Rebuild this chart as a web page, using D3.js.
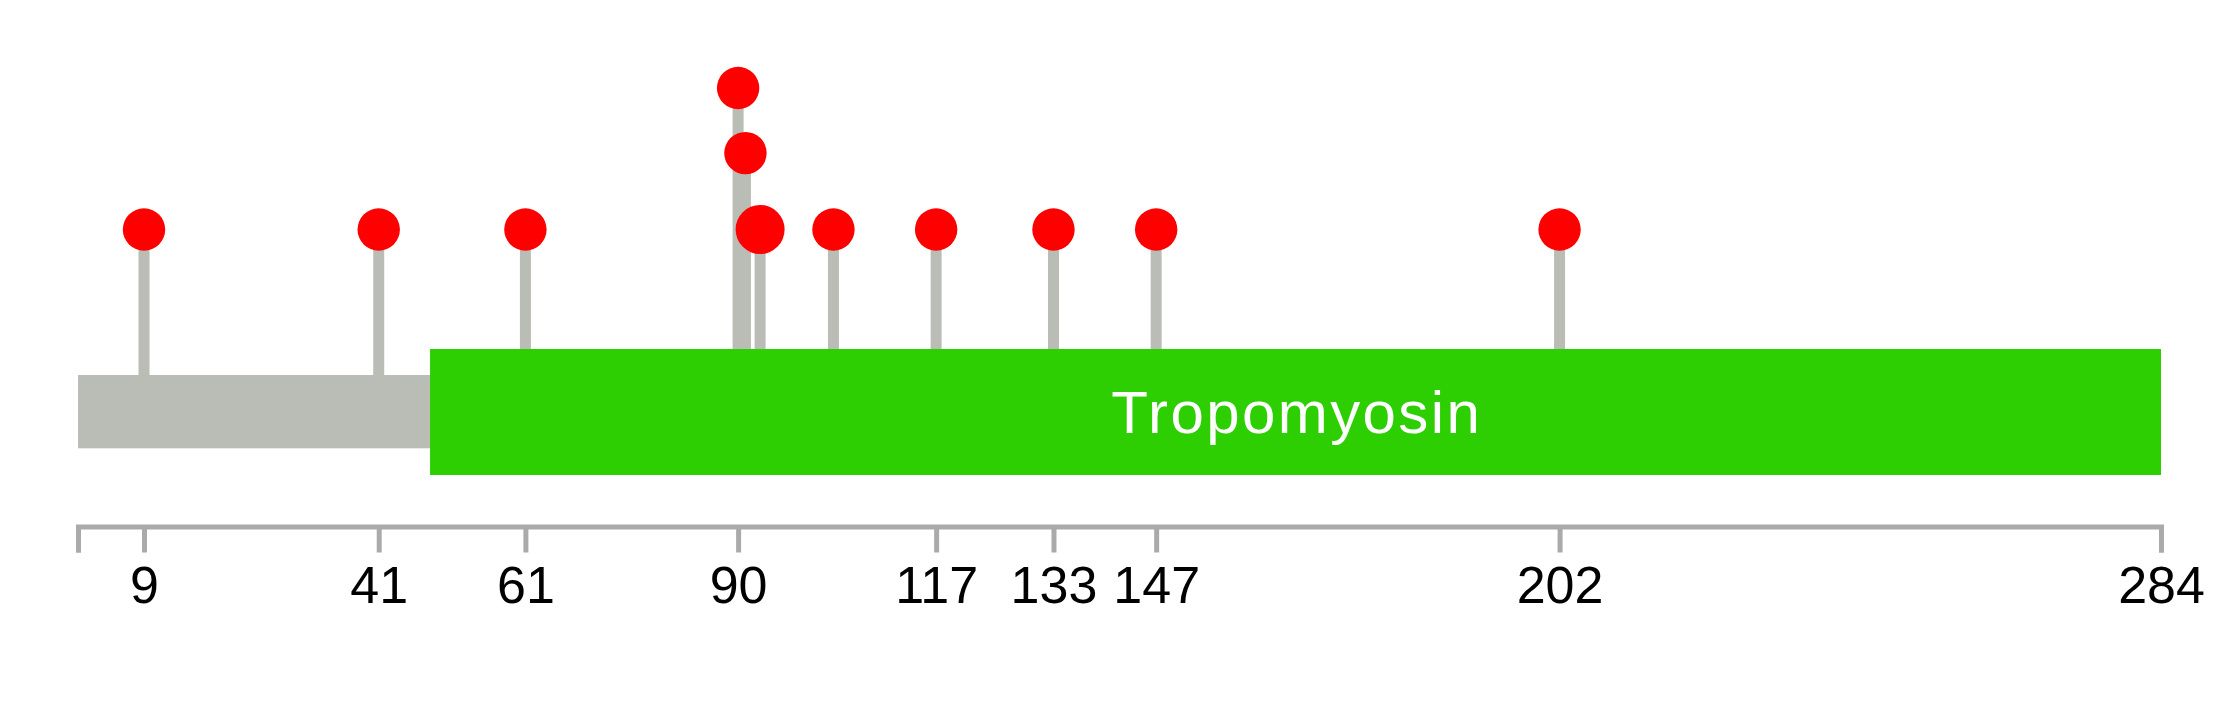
<!DOCTYPE html>
<html>
  <head>
    <meta charset="utf-8">
    <title>Tropomyosin lollipop</title>
    <style>
      body { margin: 0; background: white; }
      svg text { font-family: "Liberation Sans", Arial, sans-serif; }
    </style>
  </head>
  <body>
    <div id="chart"></div>
    <script src="https://d3js.org/d3.v7.min.js"></script>
    <script>

    // ---------------------------------------------- data
    var proteinLength = 284;

    var mutPositions = [9, 41, 61, 90, 91, 93, 103, 117, 133, 147, 202];
    var mutHeights   = [1, 1, 1, 3, 2.08, 1, 1, 1, 1, 1, 1];
    var mutCounts    = [1, 1, 1, 1, 1, 2, 1, 1, 1, 1, 1];

    var domainNames  = ["Tropomyosin"];
    var domainStarts = [48];
    var domainEnds   = [284];

    var tickValues = [0, 9, 41, 61, 90, 117, 133, 147, 202, 284];
    var tickLabels = ["", "9", "41", "61", "90", "117", "133", "147", "202", "284"];

    // ---------------------------------------------- setup
    var width = 2239, height = 708;

    var svg = d3.select("#chart").append("svg")
        .attr("width", width)
        .attr("height", height);

    var x = d3.scaleLinear()
        .domain([0, proteinLength])
        .range([78, 2161]);

    // lollipop heights: 1 -> y 229, 3 -> y 88
    var y = d3.scaleLinear()
        .domain([1, 3])
        .range([229.5, 88]);

    var r = d3.scaleLinear()
        .domain([1, 2])
        .range([21.2, 24.5]);

    var muts = mutPositions.map(function(p, i) {
      return {pos: p, h: mutHeights[i], n: mutCounts[i]};
    });

    var doms = domainNames.map(function(n, i) {
      return {name: n, start: domainStarts[i], end: domainEnds[i]};
    });

    var barTop = 375, barBottom = 448.3;
    var domTop = 349, domBottom = 475;

    // stems
    svg.append("g").selectAll("line")
      .data(muts)
      .enter().append("line")
        .attr("x1", function(d) { return x(d.pos); })
        .attr("x2", function(d) { return x(d.pos); })
        .attr("y1", function(d) { return y(d.h); })
        .attr("y2", barTop + 2)
        .style("stroke", "#babdb6")
        .style("stroke-width", 11);

    // protein backbone
    svg.append("rect")
        .attr("x", x(0))
        .attr("y", barTop)
        .attr("width", x(proteinLength) - x(0))
        .attr("height", barBottom - barTop)
        .attr("fill", "#babdb6");

    // domains
    var dg = svg.append("g").selectAll("g")
      .data(doms)
      .enter().append("g");

    dg.append("rect")
        .attr("x", function(d) { return x(d.start); })
        .attr("y", domTop)
        .attr("width", function(d) { return x(d.end) - x(d.start); })
        .attr("height", domBottom - domTop)
        .attr("fill", "#2ecf02");

    dg.append("text")
        .attr("x", function(d) { return (x(d.start) + x(d.end)) / 2 + 1.2; })
        .attr("y", 433.3)
        .attr("text-anchor", "middle")
        .style("fill", "white")
        .style("font-size", "60px")
        .style("letter-spacing", "2.4px")
        .text(function(d) { return d.name; });

    // heads
    svg.append("g").selectAll("circle")
      .data(muts)
      .enter().append("circle")
        .attr("cx", function(d) { return x(d.pos); })
        .attr("cy", function(d) { return y(d.h); })
        .attr("r", function(d) { return r(d.n); })
        .attr("fill", "#ff0000");

    // axis
    var axis = d3.axisBottom(x)
        .tickValues(tickValues)
        .tickFormat(function(d, i) { return tickLabels[i]; })
        .tickSize(26)
        .tickSizeOuter(26)
        .tickPadding(14);

    var ag = svg.append("g")
        .attr("transform", "translate(0,526.5)")
        .call(axis);

    ag.select(".domain")
        .style("stroke", "#aaaaaa")
        .style("stroke-width", 5)
        .style("fill", "none");
    ag.selectAll(".tick line")
        .style("stroke", "#aaaaaa")
        .style("stroke-width", 5);
    ag.selectAll(".tick text")
        .style("fill", "black")
        .style("font-size", "52px")
        .style("font-family", "'Liberation Sans', Arial, sans-serif");
    </script>
  </body>
</html>
